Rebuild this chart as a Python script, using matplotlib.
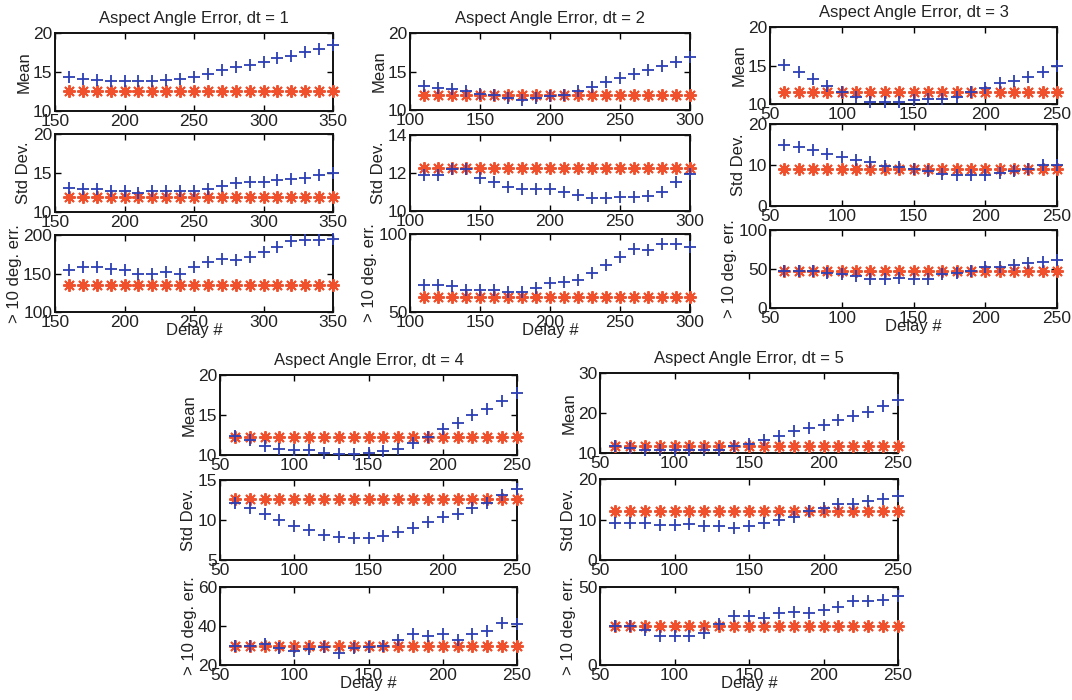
import numpy as np
import matplotlib
matplotlib.use("Agg")
import matplotlib.pyplot as plt

plt.rcParams['font.family'] = ['Liberation Sans', 'DejaVu Sans']

# ---- data -------------------------------------------------------------
delay_dt1 = list(range(160, 351, 10))
delay_dt2 = list(range(110, 301, 10))
delay_dt345 = list(range(60, 251, 10))

# dt = 1
mean_dt1 = [14.3, 14.05, 14.0, 13.8, 13.8, 13.8, 13.8, 14.0, 14.05, 14.4,
            14.7, 15.3, 15.6, 15.9, 16.25, 16.8, 17.1, 17.55, 17.9, 18.4]
mean_ref_dt1 = 12.5
std_dt1 = [13.1, 12.9, 12.9, 12.65, 12.65, 12.5, 12.65, 12.65, 12.65, 12.75,
           12.9, 13.3, 13.7, 13.8, 13.9, 14.1, 14.2, 14.4, 14.7, 15.0]
std_ref_dt1 = 11.9
err_dt1 = [154, 159, 158, 156, 154, 150, 150, 151.5, 150, 159,
           165, 169, 167, 172, 178, 184, 192, 193.5, 193, 194.5]
err_ref_dt1 = 135

# dt = 2
mean_dt2 = [13.1, 12.8, 12.7, 12.45, 12.1, 11.9, 11.55, 11.25, 11.5, 11.8,
            12.0, 12.45, 13.0, 13.65, 14.1, 14.7, 15.2, 15.65, 16.2, 16.9]
mean_ref_dt2 = 12.0
std_dt2 = [11.9, 11.9, 12.2, 12.2, 11.75, 11.55, 11.25, 11.15, 11.15, 11.15,
           11.0, 10.85, 10.7, 10.7, 10.75, 10.75, 10.8, 11.0, 11.5, 11.95]
std_ref_dt2 = 12.25
err_dt2 = [67.3, 67.3, 66.7, 64.2, 64.2, 64.2, 63.1, 63.1, 65.2, 68.3,
           69.4, 70.4, 75.0, 80.2, 85.4, 90.6, 89.6, 93.75, 93.75, 91.7]
err_ref_dt2 = 59.5

# dt = 3
mean_dt3 = [15.1, 14.2, 13.2, 12.4, 11.6, 10.95, 10.3, 10.3, 10.3, 10.5,
            10.6, 10.7, 10.95, 11.5, 12.1, 12.75, 13.0, 13.45, 14.2, 14.9]
mean_ref_dt3 = 11.5
std_dt3 = [14.9, 14.4, 13.6, 12.8, 11.9, 11.3, 10.7, 9.7, 9.5, 9.05,
           8.5, 7.9, 7.65, 7.65, 7.65, 8.1, 8.6, 9.0, 9.9, 10.1]
std_ref_dt3 = 9.0
err_dt3 = [47, 47, 47, 44.7, 44, 40.4, 37.4, 37.4, 39, 37.4,
           37.4, 44, 45.5, 48, 52.3, 53.2, 55.3, 57.4, 59.6, 61.7]
err_ref_dt3 = 47

# dt = 4
mean_dt4 = [12.4, 11.9, 11.1, 10.8, 10.6, 10.6, 10.3, 10.1, 10.1, 10.2,
            10.5, 10.8, 11.5, 12.3, 13.2, 14.0, 15.0, 15.8, 16.75, 17.7]
mean_ref_dt4 = 12.2
std_dt4 = [12.1, 11.5, 10.75, 10.0, 9.2, 8.75, 8.1, 7.9, 7.8, 7.8,
           8.0, 8.5, 9.0, 9.8, 10.4, 10.8, 11.5, 12.1, 13.1, 13.9]
std_ref_dt4 = 12.6
err_dt4 = [30, 30, 31, 28.5, 27.2, 28, 29, 26, 28.5, 29,
           30, 32.8, 35.8, 34.7, 35.8, 32.8, 35.8, 37.5, 41.3, 40.9]
err_ref_dt4 = 30

# dt = 5
mean_dt5 = [11.8, 11.25, 10.8, 10.8, 10.8, 10.8, 10.8, 10.8, 11.8, 12.3,
            13.2, 14.2, 15.4, 16.25, 17.1, 18.2, 19.2, 20.2, 21.8, 23.2]
mean_ref_dt5 = 11.8
std_dt5 = [9.25, 9.25, 9.1, 8.7, 8.7, 8.85, 8.3, 8.3, 8.0, 8.4,
           9.1, 9.9, 10.5, 12.0, 12.8, 13.8, 13.8, 14.5, 15.0, 15.8]
std_ref_dt5 = 12.1
err_dt5 = [25, 25, 22.3, 18.5, 18.5, 18.5, 20.6, 26, 31.3, 31.3,
           30.2, 33.4, 34, 33.4, 35.5, 37.2, 40.9, 40.9, 41.5, 44]
err_ref_dt5 = 25

row_labels = ["Mean", "Std Dev.", "> 10 deg. err."]

panels = [
    dict(dt=1, x=delay_dt1, xlim=(150, 350), xticks=[150, 200, 250, 300, 350],
         rows=[(mean_dt1, mean_ref_dt1, (10, 20), [10, 15, 20]),
               (std_dt1, std_ref_dt1, (10, 20), [10, 15, 20]),
               (err_dt1, err_ref_dt1, (100, 200), [100, 150, 200])],
         left=55, right=333, tops=[(33, 111), (134, 212), (235, 312)]),
    dict(dt=2, x=delay_dt2, xlim=(100, 300), xticks=[100, 150, 200, 250, 300],
         rows=[(mean_dt2, mean_ref_dt2, (10, 20), [10, 15, 20]),
               (std_dt2, std_ref_dt2, (10, 14), [10, 12, 14]),
               (err_dt2, err_ref_dt2, (50, 100), [50, 100])],
         left=410, right=690, tops=[(33, 110), (135, 211), (234, 312)]),
    dict(dt=3, x=delay_dt345, xlim=(50, 250), xticks=[50, 100, 150, 200, 250],
         rows=[(mean_dt3, mean_ref_dt3, (10, 20), [10, 15, 20]),
               (std_dt3, std_ref_dt3, (0, 20), [0, 10, 20]),
               (err_dt3, err_ref_dt3, (0, 100), [0, 50, 100])],
         left=770, right=1057, tops=[(27, 104), (124, 206), (230, 308)]),
    dict(dt=4, x=delay_dt345, xlim=(50, 250), xticks=[50, 100, 150, 200, 250],
         rows=[(mean_dt4, mean_ref_dt4, (10, 20), [10, 15, 20]),
               (std_dt4, std_ref_dt4, (5, 15), [5, 10, 15]),
               (err_dt4, err_ref_dt4, (20, 60), [20, 40, 60])],
         left=220, right=517, tops=[(375, 455), (480, 560), (587, 665)]),
    dict(dt=5, x=delay_dt345, xlim=(50, 250), xticks=[50, 100, 150, 200, 250],
         rows=[(mean_dt5, mean_ref_dt5, (10, 30), [10, 20, 30]),
               (std_dt5, std_ref_dt5, (0, 20), [0, 10, 20]),
               (err_dt5, err_ref_dt5, (0, 50), [0, 50])],
         left=600, right=898, tops=[(373, 453), (479, 560), (587, 665)]),
]

# ---- drawing ----------------------------------------------------------
W, H = 1072, 700
fig = plt.figure(figsize=(W / 100, H / 100), dpi=100)
fig.patch.set_facecolor("white")

BLUE = "#2d3fb5"
RED = "#f0502c"
TXT = "#222222"
ASTERISK = (8, 2, 0)  # eight-spoke asterisk, like '+' and 'x' combined

for p in panels:
    x = np.asarray(p["x"])
    for i, ((vals, ref, ylim, yticks), (t, b)) in enumerate(zip(p["rows"], p["tops"])):
        ax = fig.add_axes([p["left"] / W, 1 - b / H,
                           (p["right"] - p["left"]) / W, (b - t) / H])
        ax.plot(x, np.full(len(x), ref), linestyle="none", marker=ASTERISK,
                markersize=9, color=RED, markeredgewidth=1.4, clip_on=False,
                zorder=3)
        ax.plot(x, vals, linestyle="none", marker="+", markersize=9,
                color=BLUE, markeredgewidth=1.3, clip_on=False, zorder=4)
        ax.set_xlim(*p["xlim"])
        ax.set_ylim(*ylim)
        ax.set_xticks(p["xticks"])
        ax.set_yticks(yticks)
        ax.tick_params(direction="in", top=True, right=True, length=4,
                       width=1.0, labelsize=12.5, labelcolor=TXT, pad=2)
        for s in ax.spines.values():
            s.set_linewidth(1.4)
            s.set_color("#111111")
            s.set_zorder(2)
        ax.set_ylabel(row_labels[i], fontsize=12, color=TXT, labelpad=1)
        if i == 0:
            ax.set_title(f"Aspect Angle Error, dt = {p['dt']}", fontsize=12,
                         color=TXT, pad=7)
        if i == 2:
            ax.set_xlabel("Delay #", fontsize=12, color=TXT, labelpad=-5)

fig.savefig("out.png", dpi=100, facecolor="white")
